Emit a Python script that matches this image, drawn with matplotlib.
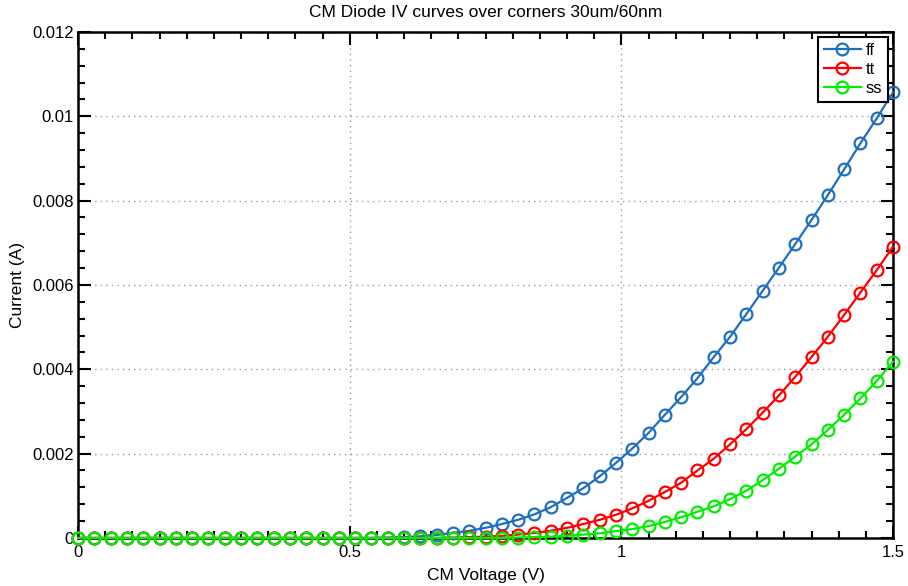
import matplotlib
matplotlib.use("Agg")
import matplotlib.pyplot as plt
from matplotlib.ticker import MultipleLocator, FuncFormatter

plt.rcParams['font.family'] = ['Liberation Sans', 'DejaVu Sans']

# sweep voltage (V), 0.03 V steps
voltage = [0.00, 0.03, 0.06, 0.09, 0.12, 0.15, 0.18, 0.21, 0.24, 0.27,
           0.30, 0.33, 0.36, 0.39, 0.42, 0.45, 0.48, 0.51, 0.54, 0.57,
           0.60, 0.63, 0.66, 0.69, 0.72, 0.75, 0.78, 0.81, 0.84, 0.87,
           0.90, 0.93, 0.96, 0.99, 1.02, 1.05, 1.08, 1.11, 1.14, 1.17,
           1.20, 1.23, 1.26, 1.29, 1.32, 1.35, 1.38, 1.41, 1.44, 1.47, 1.50]

# current (A) per corner
ff = [0, 0, 0, 0, 0, 0, 0, 0, 0, 0,
      0, 0, 0, 0, 0, 0, 0, 0, 0, 0.00001,
      0.00002, 0.00004, 0.00007, 0.00012, 0.00017, 0.00024, 0.00033, 0.00043, 0.00056, 0.00073,
      0.00095, 0.00118, 0.00146, 0.00178, 0.00212, 0.00249, 0.00292, 0.00334, 0.00379, 0.00429,
      0.00477, 0.00531, 0.00586, 0.00641, 0.00697, 0.00754, 0.00813, 0.00874, 0.00936, 0.00995, 0.01057]

tt = [0, 0, 0, 0, 0, 0, 0, 0, 0, 0,
      0, 0, 0, 0, 0, 0, 0, 0, 0, 0,
      0, 0, 0, 0.00001, 0.00002, 0.00003, 0.00005, 0.00008, 0.00012, 0.00017,
      0.00024, 0.00033, 0.00043, 0.00055, 0.00070, 0.00088, 0.00109, 0.00131, 0.00160, 0.00188,
      0.00222, 0.00258, 0.00297, 0.00338, 0.00382, 0.00429, 0.00477, 0.00529, 0.00582, 0.00635, 0.00691]

ss = [0, 0, 0, 0, 0, 0, 0, 0, 0, 0,
      0, 0, 0, 0, 0, 0, 0, 0, 0, 0,
      0, 0, 0, 0, 0, 0, 0, 0.00001, 0.00002, 0.00003,
      0.00005, 0.00008, 0.00011, 0.00016, 0.00021, 0.00028, 0.00038, 0.00049, 0.00062, 0.00075,
      0.00092, 0.00112, 0.00137, 0.00164, 0.00193, 0.00222, 0.00256, 0.00292, 0.00331, 0.00372, 0.00418]

corners = ["ff", "tt", "ss"]
colors = ["#1f6fc0", "#ff0000", "#00ee00"]

fig = plt.figure(figsize=(9.08, 5.86), dpi=100)
ax = fig.add_axes([0.086, 0.082, 0.8975, 0.8635])

for name, vals, c in zip(corners, [ff, tt, ss], colors):
    ax.plot(voltage, vals, color=c, linewidth=1.6, marker='o', markersize=8.5,
            markerfacecolor='none', markeredgecolor=c, markeredgewidth=1.6, label=name,
            clip_on=False, zorder=3)

ax.set_xlim(0, 1.5)
ax.set_ylim(0, 0.012)
ax.xaxis.set_major_locator(MultipleLocator(0.5))
ax.xaxis.set_minor_locator(MultipleLocator(0.05))
ax.yaxis.set_major_locator(MultipleLocator(0.002))
ax.yaxis.set_minor_locator(MultipleLocator(0.0004))
fmt = FuncFormatter(lambda v, p: "%g" % round(v, 6))
ax.xaxis.set_major_formatter(fmt)
ax.yaxis.set_major_formatter(fmt)

ax.tick_params(which='both', direction='in', top=True, right=True, labelsize=12, width=1.5)
ax.tick_params(which='major', length=9, pad=3)
ax.tick_params(axis='x', which='major', pad=5)
ax.tick_params(which='minor', length=5)
for s in ax.spines.values():
    s.set_linewidth(1.8)

ax.grid(True, which='major', linestyle=(0, (1, 3)), color='#999999', linewidth=1)

ax.set_title("CM Diode IV curves over corners 30um/60nm", fontsize=12.5, pad=11)
ax.set_xlabel("CM Voltage (V)", fontsize=12.5, labelpad=6)
ax.set_ylabel("Current (A)", fontsize=12.5, labelpad=5)

leg = ax.legend(loc='upper right', fontsize=12, handlelength=2.2, handletextpad=0.3,
                borderaxespad=0.3, borderpad=0.35, labelspacing=0.25, fancybox=False)
leg.get_frame().set_edgecolor('black')
leg.get_frame().set_linewidth(1.5)
leg.get_frame().set_alpha(1)
leg.set_zorder(5)

plt.savefig("out.png")
